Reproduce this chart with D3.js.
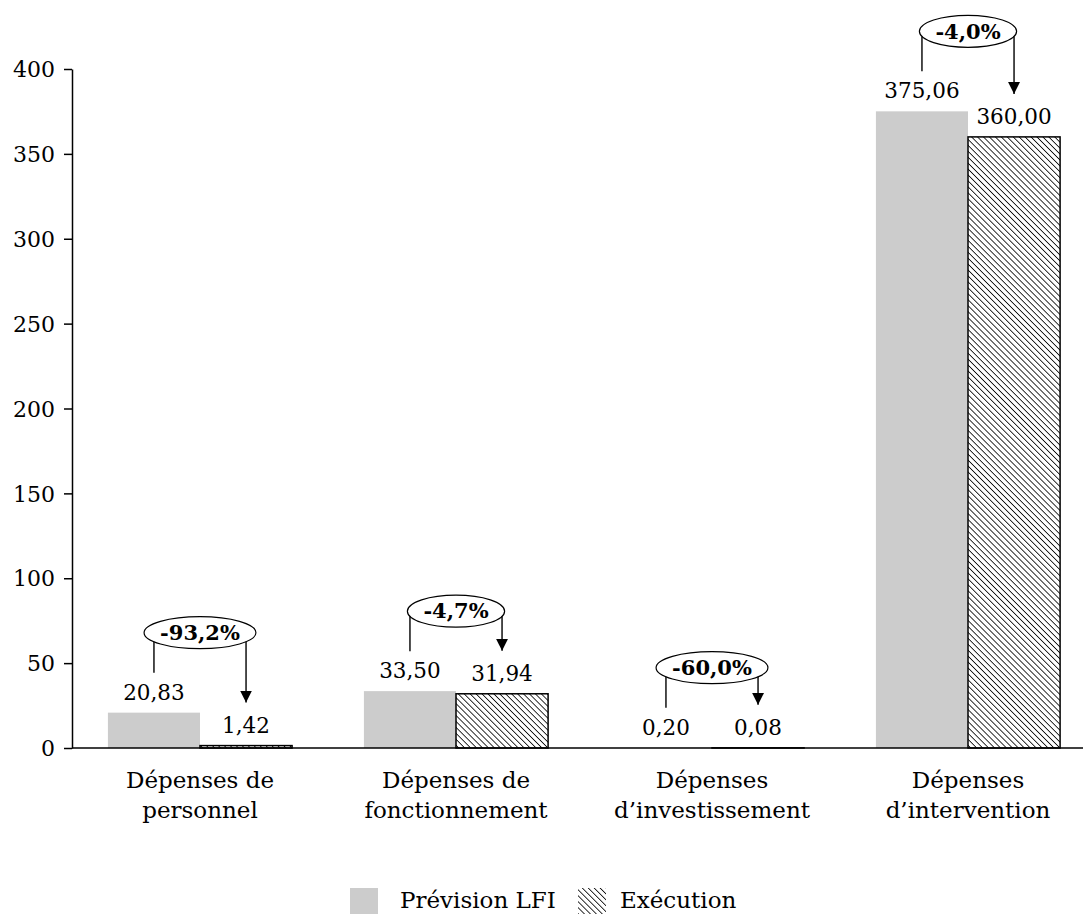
<!DOCTYPE html>
<html>
<head>
<meta charset="UTF-8">
<style>
  body { margin: 0; background: white; }
  svg { display: block; font-family: "DejaVu Serif", serif; }
  .axis text { font-family: "DejaVu Serif", serif; font-size: 22px; fill: black; }
  .axis path, .axis line { stroke: black; stroke-width: 1.5px; }
  .val { font-size: 21.5px; text-anchor: middle; }
  .cat { font-size: 23px; text-anchor: middle; }
  .ecart { font-size: 21px; font-weight: bold; text-anchor: middle; }
  .leg { font-size: 23px; }
</style>
</head>
<body>
<svg></svg>
<script src="https://d3js.org/d3.v7.min.js"></script>
<script>

let width = 1083, height = 914;

// data
let categories = [["Dépenses de", "personnel"], ["Dépenses de", "fonctionnement"],
                  ["Dépenses", "d’investissement"], ["Dépenses", "d’intervention"]];
let series = ["Prévision LFI", "Exécution"];
let prevision = [20.83, 33.50, 0.20, 375.06];
let execution = [1.42, 31.94, 0.08, 360.00];
let ecarts = ["-93,2%", "-4,7%", "-60,0%", "-4,0%"];
let yTicks = [0, 50, 100, 150, 200, 250, 300, 350, 400];

let fmt = v => v.toFixed(2).replace(".", ",");

let svg = d3.select("svg").attr("width", width).attr("height", height);

let margin = {left: 72, top: 69, bottom: 748};

let x0 = d3.scaleBand().domain(d3.range(categories.length)).range([margin.left, margin.left + 4 * 256]);
let x1 = d3.scaleBand().domain(series).range([0, x0.bandwidth()]).paddingOuter(0.39);
let y = d3.scaleLinear().domain([0, 400]).range([margin.bottom, margin.top]);

// hatch pattern + arrow head
let defs = svg.append("defs");
defs.append("pattern")
    .attr("id", "hatch")
    .attr("patternUnits", "userSpaceOnUse")
    .attr("width", 4.2).attr("height", 4.2)
    .attr("patternTransform", "rotate(-45)")
  .append("line")
    .attr("x1", 0).attr("y1", 0).attr("x2", 0).attr("y2", 4.2)
    .attr("stroke", "black").attr("stroke-width", 1.6);
defs.append("marker")
    .attr("id", "arrow")
    .attr("viewBox", "0 0 10 10")
    .attr("refX", 10).attr("refY", 5)
    .attr("markerWidth", 12).attr("markerHeight", 12)
    .attr("markerUnits", "userSpaceOnUse")
    .attr("orient", "auto")
  .append("path")
    .attr("d", "M0,0 L10,5 L0,10 Z")
    .attr("fill", "black");

// y axis
svg.append("g")
    .attr("class", "axis")
    .attr("transform", `translate(${margin.left},0)`)
    .call(d3.axisLeft(y).tickValues(yTicks).tickSize(8).tickPadding(9).tickSizeOuter(0))
    .call(g => g.selectAll("text").attr("dy", "0.35em"));

// bars
let groups = svg.append("g").selectAll("g")
    .data(categories.map((c, i) => ({i: i, prev: prevision[i], exec: execution[i]})))
    .join("g")
    .attr("transform", d => `translate(${x0(d.i)},0)`);

groups.append("rect")
    .attr("x", x1(series[0]))
    .attr("width", x1.bandwidth())
    .attr("y", d => y(d.prev))
    .attr("height", d => y(0) - y(d.prev))
    .attr("fill", "#cccccc");

groups.append("rect")
    .attr("x", x1(series[1]))
    .attr("width", x1.bandwidth())
    .attr("y", d => y(d.exec))
    .attr("height", d => y(0) - y(d.exec))
    .attr("fill", "url(#hatch)")
    .attr("stroke", "black")
    .attr("stroke-width", 1.5);

// x axis line
svg.append("line")
    .attr("x1", margin.left).attr("x2", width)
    .attr("y1", y(0)).attr("y2", y(0))
    .attr("stroke", "black").attr("stroke-width", 1.5);

// value labels
let lx = x1(series[0]) + x1.bandwidth() / 2;
let rx = x1(series[1]) + x1.bandwidth() / 2;

groups.append("text").attr("class", "val")
    .attr("x", lx).attr("y", d => y(d.prev) - 13)
    .text(d => fmt(d.prev));
groups.append("text").attr("class", "val")
    .attr("x", rx).attr("y", d => y(d.exec) - 13)
    .text(d => fmt(d.exec));

// ecart annotations
groups.each(function(d) {
  let g = d3.select(this);
  let cx = x0.bandwidth() / 2;
  let cy = y(Math.max(d.prev, d.exec)) - 80;
  let t = g.append("text").attr("class", "ecart")
      .attr("x", cx).attr("y", cy).attr("dy", "0.35em")
      .text(ecarts[d.i]);
  let w = t.node().getComputedTextLength();
  let ex = Math.max(w / 2 + 16, 48), ey = 16;
  g.insert("ellipse", "text.ecart")
      .attr("cx", cx).attr("cy", cy).attr("rx", ex).attr("ry", ey)
      .attr("fill", "white").attr("stroke", "black").attr("stroke-width", 1.2);
  let dl = (lx - cx) / ex;
  g.append("line")
      .attr("x1", lx).attr("x2", lx)
      .attr("y1", cy + ey * Math.sqrt(Math.max(0, 1 - dl * dl)))
      .attr("y2", y(d.prev) - 40)
      .attr("stroke", "black").attr("stroke-width", 1.4);
  let dr = (rx - cx) / ex;
  g.append("line")
      .attr("x1", rx).attr("x2", rx)
      .attr("y1", cy + ey * Math.sqrt(Math.max(0, 1 - dr * dr)))
      .attr("y2", y(d.exec) - 43)
      .attr("stroke", "black").attr("stroke-width", 1.4)
      .attr("marker-end", "url(#arrow)");
});

// category labels
groups.append("text").attr("class", "cat")
    .attr("x", x0.bandwidth() / 2).attr("y", 788)
    .selectAll("tspan")
    .data(d => categories[d.i])
    .join("tspan")
    .attr("x", x0.bandwidth() / 2)
    .attr("dy", (s, j) => j === 0 ? 0 : 30)
    .text(s => s);

// legend
let legend = svg.append("g").attr("transform", "translate(350,888)");
legend.append("rect").attr("width", 28).attr("height", 26).attr("fill", "#cccccc");
legend.append("text").attr("class", "leg").attr("x", 50).attr("y", 20).text(series[0]);
legend.append("rect").attr("x", 228).attr("width", 28).attr("height", 26).attr("fill", "url(#hatch)");
legend.append("text").attr("class", "leg").attr("x", 270).attr("y", 20).text(series[1]);

</script>
</body>
</html>
